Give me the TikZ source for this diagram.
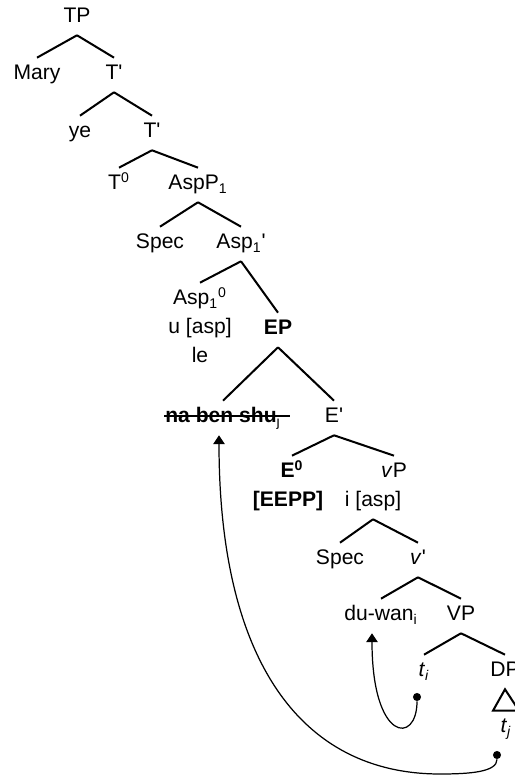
\documentclass[tikz,border=0pt]{standalone}
\usepackage{fontspec}
\setmainfont{Liberation Sans}
\usetikzlibrary{arrows.meta}

\newcommand{\prm}{\textquotesingle}

\begin{document}
\begin{tikzpicture}[
    font=\fontsize{12}{14.4}\selectfont,
    cat/.style={
        anchor=base,
        text height=8.8pt,
        text depth=3.1pt,
        inner xsep=2pt,
        inner ysep=3.7pt
    },
    branch/.style={line width=1.15pt},
    movement/.style={
        line width=0.7pt,
        -{Triangle[width=6.5pt,length=5pt]}
    },
    tracedot/.style={circle, fill, inner sep=0pt, minimum size=4.6pt}
]

\useasboundingbox (0,0) rectangle (10.28,15.54);

% TP down to AspP1
\node[cat] (tp)     at (1.54, 15.08) {TP};
\node[cat] (mary)   at (0.74, 13.94) {Mary};
\node[cat] (tbara)  at (2.28, 13.94) {T\prm};
\node[cat] (ye)     at (1.60, 12.78) {ye};
\node[cat] (tbarb)  at (3.04, 12.78) {T\prm};
\node[cat] (tzero)  at (2.38, 11.74) {T\textsuperscript{0}};
\node[cat] (asppa)  at (3.96, 11.74) {AspP\textsubscript{1}};

\draw[branch] (tp.south) -- (mary.north);
\draw[branch] (tp.south) -- (tbara.north);
\draw[branch] (tbara.south) -- (ye.north);
\draw[branch] (tbara.south) -- (tbarb.north);
\draw[branch] (tbarb.south) -- (tzero.north);
\draw[branch] (tbarb.south) -- (asppa.north);

% AspP1 and the aspect head
\node[cat] (speca)  at (3.20, 10.56) {Spec};
\node[cat] (aspbar) at (4.82, 10.56) {Asp\textsubscript{1}\prm};
\node[cat] (aspzero) at (4.00, 9.44) {Asp\textsubscript{1}\textsuperscript{0}};
\node[cat] (aspfeat) at (4.00, 8.86) {u [asp]};
\node[cat] (le)     at (4.00, 8.28) {le};
\node[cat] (ep)     at (5.56, 8.84) {\textbf{EP}};

\draw[branch] (asppa.south) -- (speca.north);
\draw[branch] (asppa.south) -- (aspbar.north);
\draw[branch] (aspbar.south) -- (aspzero.north);
\draw[branch] (aspbar.south) -- (ep.north);

% EP
\node[cat] (nbs)    at (4.46, 7.08) {\textbf{na ben shu}\textsubscript{j}};
\node[cat] (ebar)   at (6.68, 7.08) {E\prm};
\node[cat] (ezero)  at (5.84, 5.98) {\textbf{E\textsuperscript{0}}};
\node[cat] (eepp)   at (5.76, 5.40) {\textbf{[EEPP]}};
\node[cat] (vp)     at (7.88, 5.98) {\textit{v}P};
\node[cat] (vfeat)  at (7.46, 5.40) {i [asp]};

\draw[branch] (ep.south) -- (nbs.north);
\draw[branch] (ep.south) -- (ebar.north);
\draw[branch] (ebar.south) -- (ezero.north);
\draw[branch] (ebar.south) -- (vp.north);

% deleted copy
\draw[line width=1pt] ([xshift=1.5pt,yshift=4pt]nbs.base west)
    -- ([xshift=3pt,yshift=4pt]nbs.base east);

% vP
\node[cat] (specb)  at (6.80, 4.24) {Spec};
\node[cat] (vbar)   at (8.36, 4.24) {\textit{v}\prm};
\node[cat] (duwan)  at (7.62, 3.12) {du-wan\textsubscript{i}};
\node[cat] (vpp)    at (9.22, 3.12) {VP};
\node[cat] (ti)     at (8.48, 2.00) {\textit{t}\textsubscript{\textit{i}}};
\node[cat] (dp)     at (10.10, 2.00) {DP};
\node[cat] (tj)     at (10.12, 0.88) {\textit{t}\textsubscript{\textit{j}}};

\draw[branch] (vfeat.south) -- (specb.north);
\draw[branch] (vfeat.south) -- (vbar.north);
\draw[branch] (vbar.south) -- (duwan.north);
\draw[branch] (vbar.south) -- (vpp.north);
\draw[branch] (vpp.south) -- (ti.north);
\draw[branch] (vpp.south) -- (dp.north);
\draw[branch] (dp.south) -- ([xshift=-0.26cm]tj.north)
    -- ([xshift=0.26cm]tj.north) -- cycle;

% movement arrows
\node[tracedot] (tidot) at (8.34, 1.60) {};
\node[tracedot] (tjdot) at (9.94, 0.44) {};
\coordinate (jlow) at (8.80, 0.06);

\draw[movement] (tidot) .. controls +(0,-0.96) and +(0,-2.18)
    .. ([xshift=-0.18cm]duwan.south);
\draw[movement] (tjdot) .. controls +(0,-0.34) and +(0.6,0) .. (jlow)
    .. controls +(-2.8,0) and +(0,-4.48) .. ([xshift=-0.08cm]nbs.south);

\end{tikzpicture}
\end{document}
